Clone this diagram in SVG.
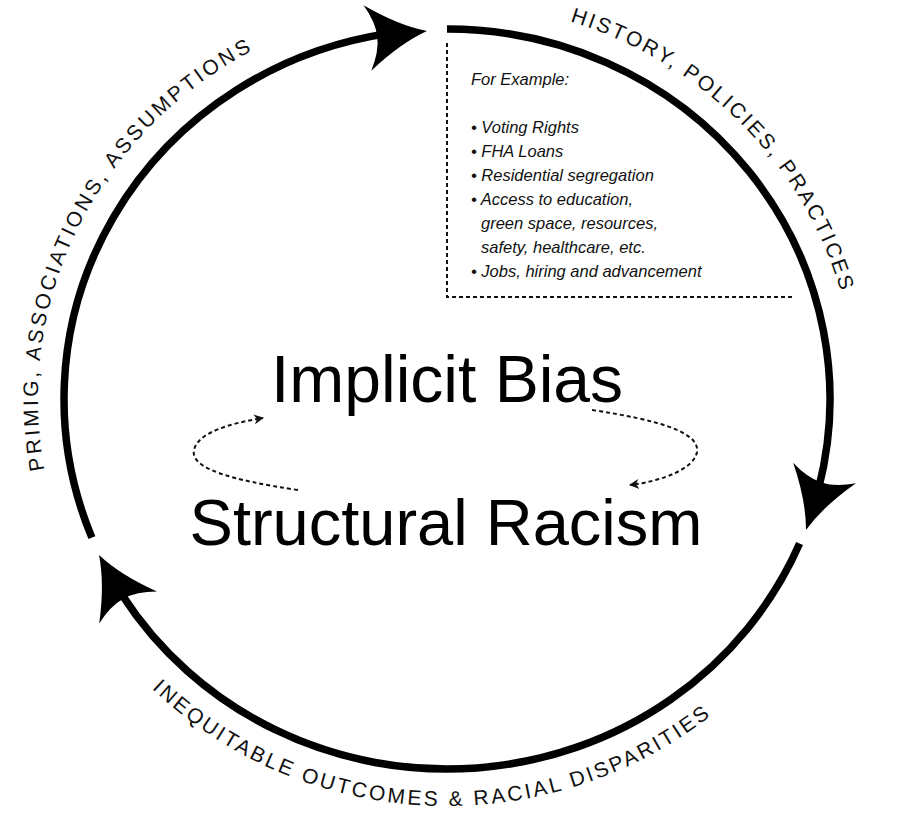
<svg xmlns="http://www.w3.org/2000/svg" width="900" height="826" viewBox="0 0 900 826">
<style>
  .ring { fill: none; stroke: #000; stroke-width: 7.5; stroke-linecap: butt; }
  .head { fill: #000; }
  .arc-label { font-family: "Liberation Sans", Arial, sans-serif; font-size: 21px; fill: #111; }
  .big { font-family: "Liberation Sans", Arial, sans-serif; fill: #000; text-anchor: middle; }
  .ex { font-family: "Liberation Sans", Arial, sans-serif; font-size: 16.5px; font-style: italic; fill: #111; }
  .dotted { fill: none; stroke: #111; stroke-width: 2; stroke-dasharray: 4 3; }
  .dash { fill: none; stroke: #111; stroke-width: 2; stroke-dasharray: 4 3; }
</style>
<defs>
  <path id="bigArrow" d="M0,0 Q-28,-9 -60,-33 Q-50,-15 -50,0 Q-50,15 -60,33 Q-28,9 0,0 Z"/>
  <marker id="smallHead" markerUnits="userSpaceOnUse" markerWidth="12" markerHeight="10" refX="9" refY="5" orient="auto">
    <path d="M0,0 L10,5 L0,10 L3,5 Z" fill="#111"/>
  </marker>
  <path id="pTop" d="M351.5,13.9 A409,396 0 0,1 839.1,511.5"/>
  <path id="pLeft" d="M109.9,623.3 A409,396 0 0,1 414.9,4.2"/>
  <path id="pBottom" d="M73.6,585.3 A420,407 0 0,0 800.2,619.2"/>
</defs>

<g id="connectors">
  <path class="ring" d="M447,29 A383,370 0 0,1 818.6,488.5"/>
  <path class="ring" d="M799.6,543.6 A383,370 0 0,1 122.2,595.1"/>
  <path class="ring" d="M91.9,537.6 A383,370 0 0,1 387.1,33.6"/>
  <use href="#bigArrow" class="head" transform="translate(427,31) rotate(-6.7)"/>
  <use href="#bigArrow" class="head" transform="translate(806,530) rotate(108)"/>
  <use href="#bigArrow" class="head" transform="translate(99,555) rotate(-119)"/>
  <path class="dash" d="M298,490 C230,480 190,468 194,450 C198,432 232,423 263,418" marker-end="url(#smallHead)"/>
  <path class="dash" d="M592,410 C658,420 700,432 697,452 C694,469 662,481 630,485" marker-end="url(#smallHead)"/>
</g>

<g id="label-history">
  <text class="arc-label" letter-spacing="2.5"><textPath href="#pTop" startOffset="50%" text-anchor="middle">HISTORY, POLICIES, PRACTICES</textPath></text>
</g>
<g id="label-priming">
  <text class="arc-label" letter-spacing="3"><textPath href="#pLeft" startOffset="50%" text-anchor="middle">PRIMIG, ASSOCIATIONS, ASSUMPTIONS</textPath></text>
</g>
<g id="label-outcomes">
  <text class="arc-label" letter-spacing="2.7"><textPath href="#pBottom" startOffset="50%" text-anchor="middle">INEQUITABLE OUTCOMES &amp; RACIAL DISPARITIES</textPath></text>
</g>

<g id="examples-box">
  <path class="dotted" d="M447,43 L447,297 L793,297"/>
  <text class="ex" x="471" y="85">For Example:</text>
  <text class="ex" x="471" y="133">• Voting Rights</text>
  <text class="ex" x="471" y="157">• FHA Loans</text>
  <text class="ex" x="471" y="181">• Residential segregation</text>
  <text class="ex" x="471" y="205">• Access to education,</text>
  <text class="ex" x="481" y="229">green space, resources,</text>
  <text class="ex" x="481" y="253">safety, healthcare, etc.</text>
  <text class="ex" x="471" y="277">• Jobs, hiring and advancement</text>
</g>

<g id="implicit-bias">
  <text class="big" x="447" y="402" font-size="66">Implicit Bias</text>
</g>
<g id="structural-racism">
  <text class="big" x="446" y="545" font-size="65">Structural Racism</text>
</g>
</svg>
